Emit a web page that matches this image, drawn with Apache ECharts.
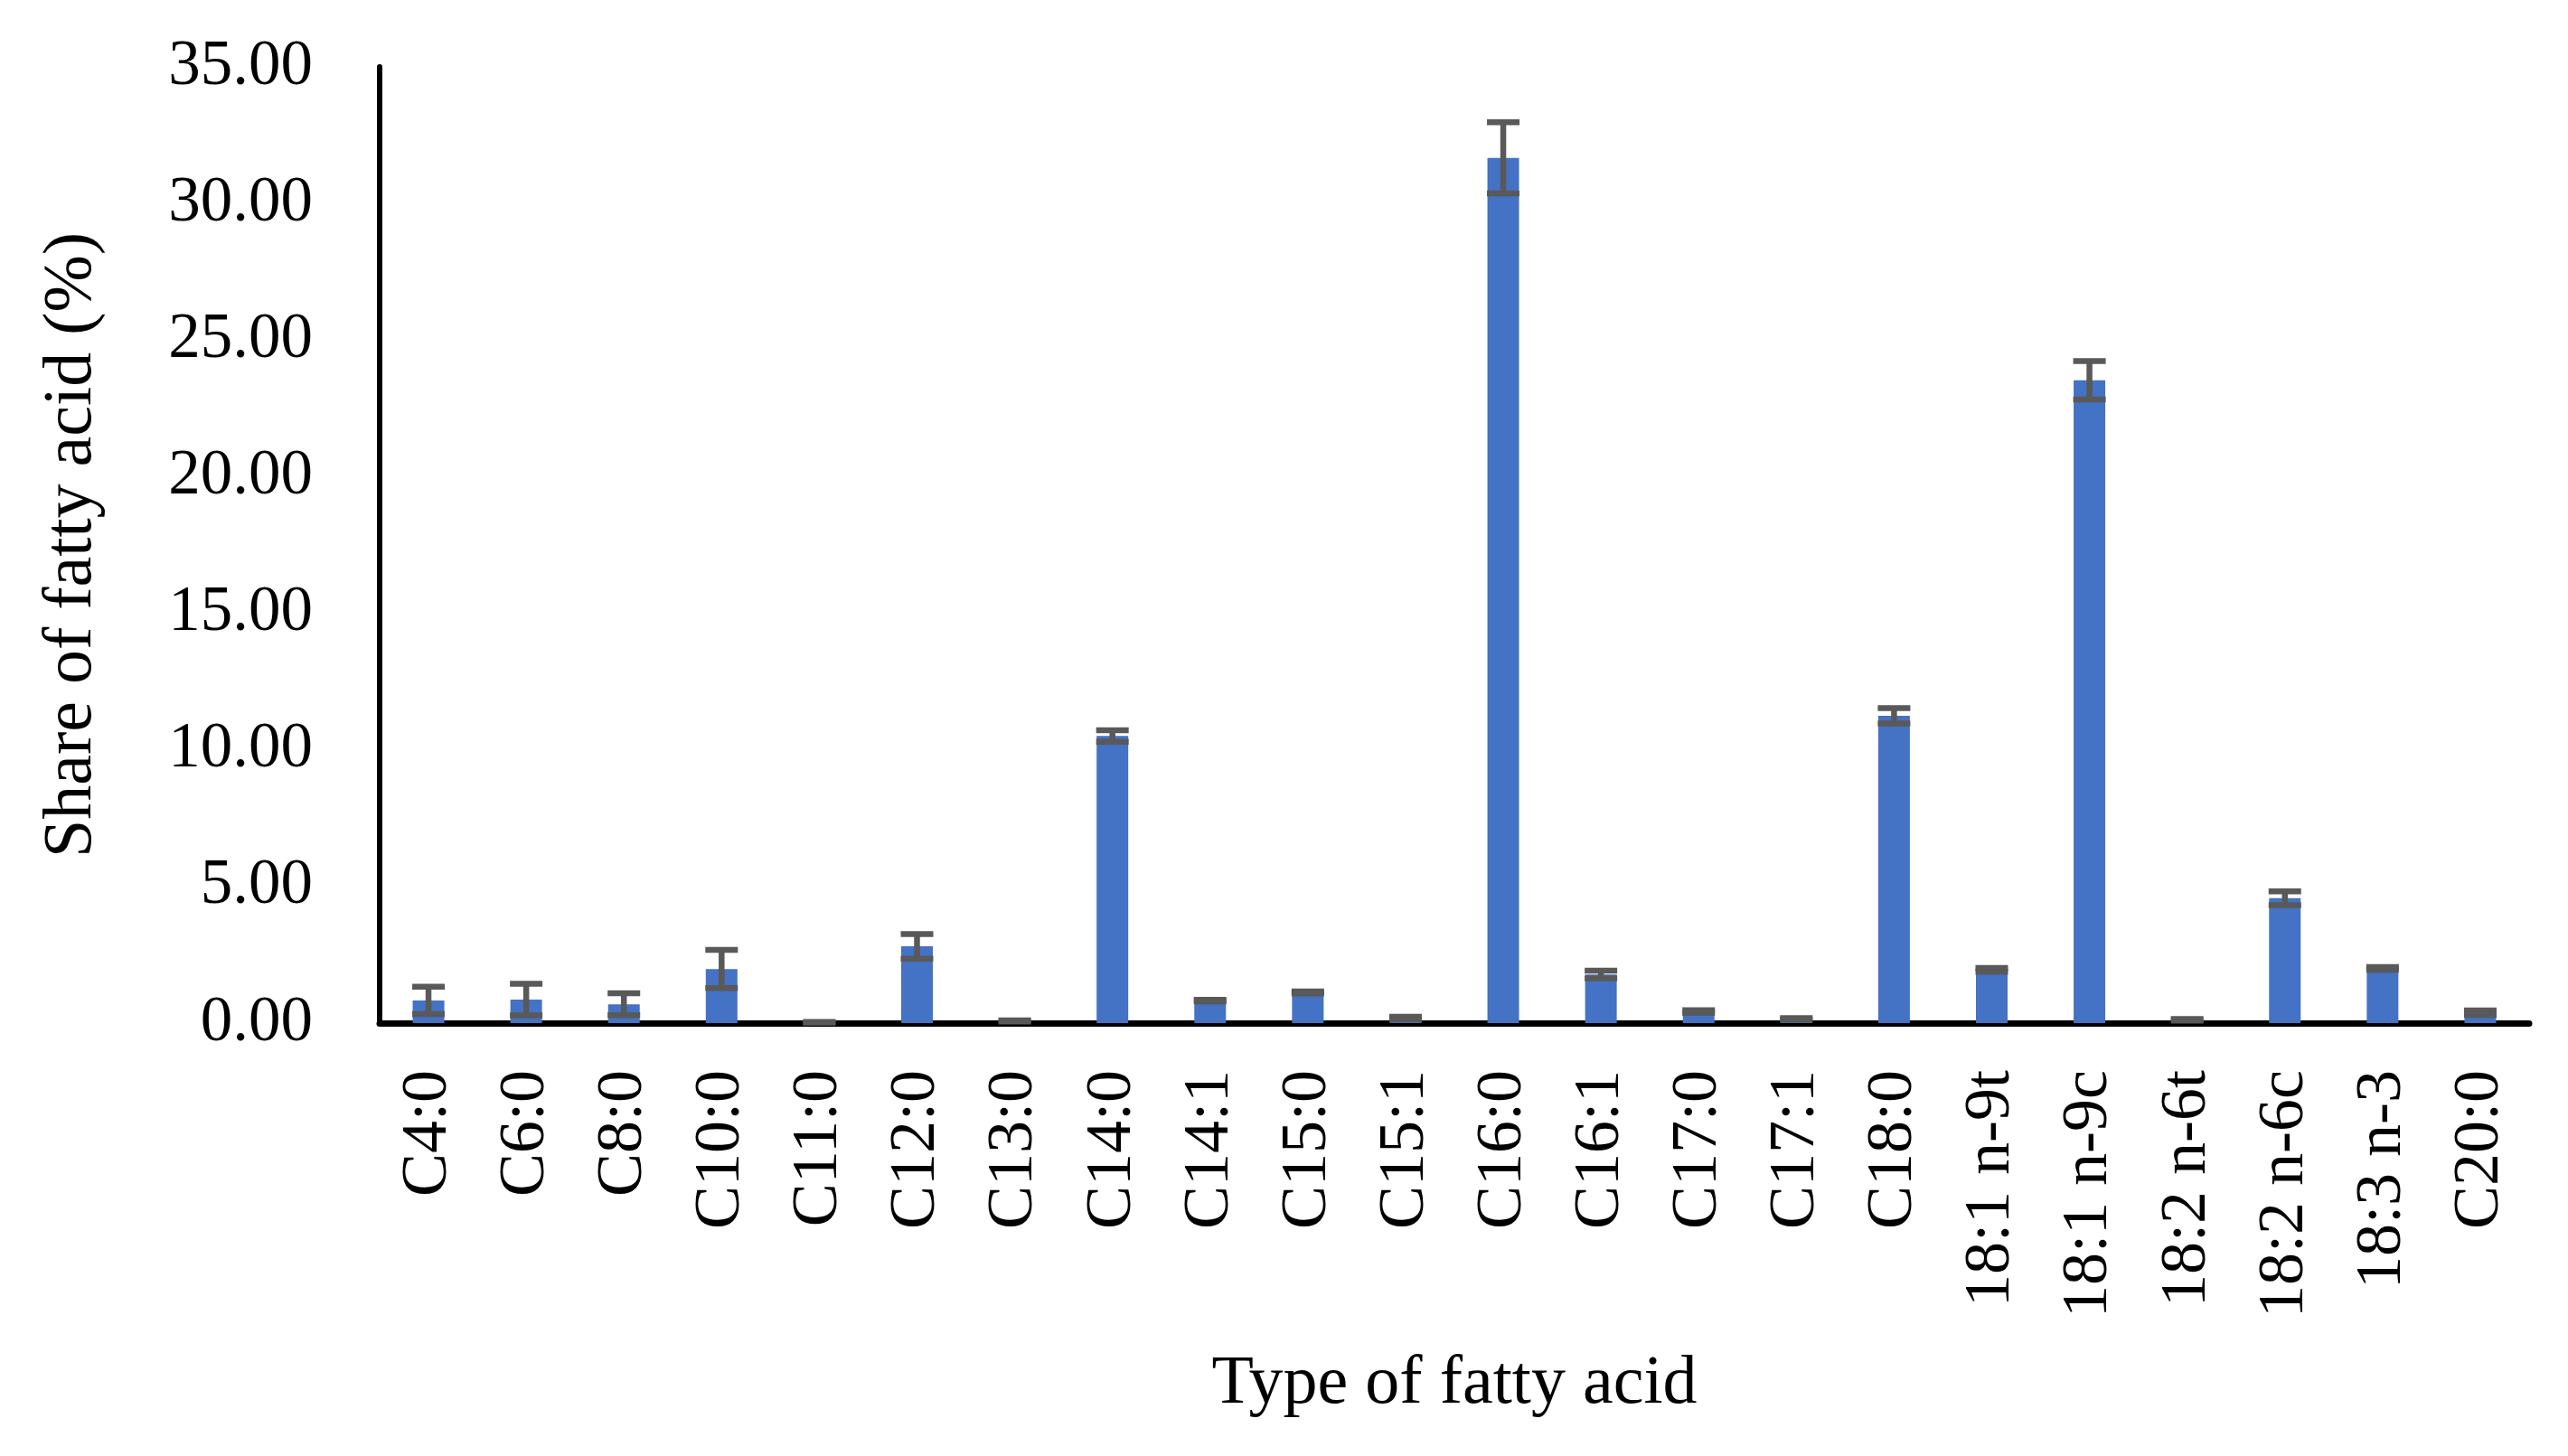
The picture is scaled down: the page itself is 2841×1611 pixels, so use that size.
<!DOCTYPE html>
<html>
<head>
<meta charset="utf-8">
<style>
html,body{margin:0;padding:0;background:#fff;}
#chart{width:2841px;height:1611px;}
</style>
<script src="https://cdn.jsdelivr.net/npm/echarts@6/dist/echarts.min.js"></script>
</head>
<body>
<div id="chart"></div>
<script>
const categories = ['C4:0','C6:0','C8:0','C10:0','C11:0','C12:0','C13:0','C14:0','C14:1','C15:0','C15:1','C16:0','C16:1','C17:0','C17:1','C18:0','18:1 n-9t','18:1 n-9c','18:2 n-6t','18:2 n-6c','18:3 n-3','C20:0'];
const shares = [0.83, 0.86, 0.69, 1.98, 0.03, 2.81, 0.08, 10.51, 0.82, 1.12, 0.18, 31.67, 1.78, 0.42, 0.15, 11.25, 1.95, 23.53, 0.12, 4.57, 2.00, 0.38];
const errors = [0.50, 0.58, 0.40, 0.70, 0.01, 0.45, 0.02, 0.21, 0.03, 0.04, 0.05, 1.30, 0.14, 0.05, 0.03, 0.28, 0.07, 0.70, 0.03, 0.25, 0.05, 0.08];
const yTicks = { min: 0, max: 35, interval: 5 };
const xTitle = 'Type of fatty acid';
const yTitle = 'Share of fatty acid (%)';

const FONT = '"Liberation Serif", "Times New Roman", serif';
const errData = shares.map((v, i) => [i, v, errors[i]]);

const chart = echarts.init(document.getElementById('chart'), null, { renderer: 'canvas' });
chart.setOption({
  animation: false,
  backgroundColor: '#ffffff',
  grid: { left: 420, right: 43, top: 74, bottom: 479, containLabel: false },
  xAxis: {
    type: 'category',
    data: categories,
    axisLine: { show: true, lineStyle: { color: '#000', width: 7 } },
    axisTick: { show: false },
    axisLabel: { interval: 0, rotate: 90, margin: 52, color: '#000', fontFamily: FONT, fontSize: 72 },
    name: xTitle,
    nameLocation: 'middle',
    nameGap: 362,
    nameTextStyle: { color: '#000', fontFamily: FONT, fontSize: 76 }
  },
  yAxis: {
    type: 'value',
    min: yTicks.min, max: yTicks.max, interval: yTicks.interval,
    axisLine: { show: true, lineStyle: { color: '#000', width: 6 } },
    axisTick: { show: false },
    splitLine: { show: false },
    axisLabel: { margin: 74, color: '#000', fontFamily: FONT, fontSize: 71, formatter: v => v.toFixed(2) },
    name: yTitle,
    nameLocation: 'middle',
    nameRotate: 90,
    nameGap: 302,
    nameTextStyle: { color: '#000', fontFamily: FONT, fontSize: 76 }
  },
  series: [
    {
      type: 'bar',
      data: shares,
      barWidth: 35,
      itemStyle: { color: '#4472C4' },
      z: 2
    },
    {
      type: 'custom',
      data: errData,
      z: 3,
      renderItem: function (params, api) {
        const i = api.value(0), v = api.value(1), e = api.value(2);
        const hi = api.coord([i, v + e]);
        const lo = api.coord([i, v - e]);
        const half = 18;
        const st = { stroke: '#595959', lineWidth: 6.5 };
        return {
          type: 'group',
          children: [
            { type: 'line', shape: { x1: hi[0], y1: hi[1], x2: lo[0], y2: lo[1] }, style: st },
            { type: 'line', shape: { x1: hi[0] - half, y1: hi[1], x2: hi[0] + half, y2: hi[1] }, style: st },
            { type: 'line', shape: { x1: lo[0] - half, y1: lo[1], x2: lo[0] + half, y2: lo[1] }, style: st }
          ]
        };
      }
    }
  ]
});
</script>
</body>
</html>
